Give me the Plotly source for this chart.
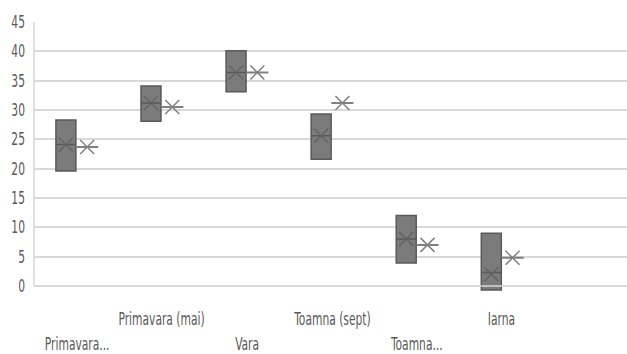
import plotly.graph_objects as go

# Seasons on the category axis (long names shortened as on the axis)
categories = ["Primavara...", "Primavara (mai)", "Vara", "Toamna (sept)", "Toamna...", "Iarna"]

# Series 1: quartile box per season with its mean
s1_q1 = [19.6, 28.1, 33.1, 21.6, 3.9, -0.7]
s1_median = [24.1, 31.2, 36.4, 25.6, 8.0, 2.3]
s1_q3 = [28.3, 34.1, 40.1, 29.3, 12.0, 9.0]
s1_mean = [24.1, 31.2, 36.4, 25.6, 8.0, 2.0]

# Series 2: a single value per season (flat box with its mean)
s2_value = [23.7, 30.5, 36.4, 31.2, 7.0, 4.8]

y_ticks = [0, 5, 10, 15, 20, 25, 30, 35, 40, 45]

FONT = "DejaVu Sans Condensed, Liberation Sans Narrow, sans-serif"
TEXT = "#595959"
GRID = "#d9d9d9"

idx = list(range(len(categories)))
x_s1 = [i - 0.125 for i in idx]
x_s2 = [i + 0.125 for i in idx]

fig = go.Figure()

fig.add_trace(go.Box(
    x=x_s1, q1=s1_q1, median=s1_median, q3=s1_q3,
    lowerfence=s1_q1, upperfence=s1_q3,
    width=0.235, whiskerwidth=0, boxpoints=False,
    fillcolor="#7b7b7b", line=dict(color="#5a5a5a", width=1.5),
    hoverinfo="skip", showlegend=False,
))
fig.add_trace(go.Box(
    x=x_s2, q1=s2_value, median=s2_value, q3=s2_value,
    lowerfence=s2_value, upperfence=s2_value,
    width=0.26, whiskerwidth=0, boxpoints=False,
    fillcolor="#808080", line=dict(color="#808080", width=2),
    hoverinfo="skip", showlegend=False,
))

# Mean markers
fig.add_trace(go.Scatter(
    x=x_s1, y=s1_mean, mode="markers",
    marker=dict(symbol="x-thin", size=14, line=dict(width=1.3, color="#626262")),
    hoverinfo="skip", showlegend=False,
))
fig.add_trace(go.Scatter(
    x=x_s2, y=s2_value, mode="markers",
    marker=dict(symbol="x-thin", size=14, line=dict(width=1.5, color="#808080")),
    hoverinfo="skip", showlegend=False,
))

# Category labels, staggered over two rows
for i, cat in enumerate(categories):
    fig.add_annotation(
        x=i, xref="x", y=0, yref="paper", yanchor="middle",
        yshift=-26 if i % 2 == 1 else -51,
        text=cat, showarrow=False,
        font=dict(family=FONT, size=17, color=TEXT),
    )

# Value axis line and category axis line drawn over the marks
fig.add_shape(type="line", xref="paper", x0=0, x1=0, yref="y", y0=0, y1=45,
              line=dict(color=GRID, width=1.6))
fig.add_shape(type="line", xref="paper", x0=0, x1=1, yref="y", y0=0, y1=0,
              line=dict(color=GRID, width=1.6), layer="above")

fig.update_layout(
    width=627, height=354,
    margin=dict(l=34, r=0, t=22, b=61),
    plot_bgcolor="white", paper_bgcolor="white",
    showlegend=False,
    xaxis=dict(range=[-0.5, 6.47], showticklabels=False, showgrid=False,
               zeroline=False, showline=False, fixedrange=True),
    yaxis=dict(range=[-1.2, 45], tickvals=y_ticks, showgrid=True,
               gridcolor=GRID, gridwidth=1.6, zeroline=False, showline=False,
               ticks="", ticklabelstandoff=8,
               tickfont=dict(family=FONT, size=17, color=TEXT), fixedrange=True),
)

# Narrow the glyphs of every label horizontally (tall, tight lettering)
squeeze_text = """
document.querySelectorAll('.main-svg text').forEach(function (t) {
  var w = t.getComputedTextLength();
  if (w > 0) {
    t.setAttribute('lengthAdjust', 'spacingAndGlyphs');
    t.setAttribute('textLength', (w * 0.7).toFixed(2));
  }
});
"""

fig.write_html("out.html", post_script=squeeze_text)
